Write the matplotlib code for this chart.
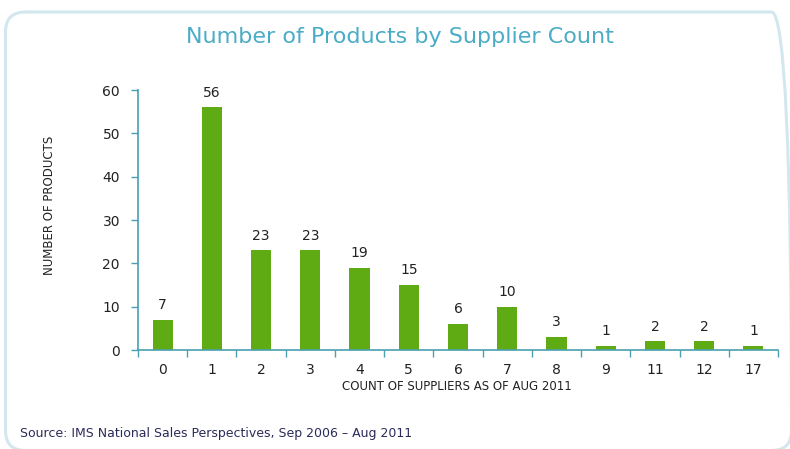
import matplotlib
matplotlib.use("Agg")
import matplotlib.pyplot as plt
from matplotlib.patches import FancyBboxPatch
import numpy as np

categories = ["0", "1", "2", "3", "4", "5", "6", "7", "8", "9", "11", "12", "17"]
values = [7, 56, 23, 23, 19, 15, 6, 10, 3, 1, 2, 2, 1]
yticks = [0, 10, 20, 30, 40, 50, 60]

plt.rcParams['font.family'] = ['DejaVu Sans']
fig = plt.figure(figsize=(7.9, 4.49), dpi=100)

# rounded border (pixel coordinates, origin bottom-left)
border = FancyBboxPatch((5.5, -1.5), 786, 438.5,
                        boxstyle="round,pad=0,rounding_size=20",
                        transform=None, fill=False,
                        edgecolor="#d3e7ee", linewidth=2.2)
fig.patches.append(border)

ax = fig.add_axes([138/790, 1-350/449, 640/790, 260/449])
x = np.arange(len(categories))
ax.bar(x, values, width=0.41, color="#5fab14", zorder=2)
for xi, v in zip(x, values):
    ax.text(xi, v + 1.8, str(v), ha="center", va="bottom", fontsize=10, color="#222222")

ax.set_xlim(-0.5, len(categories) - 0.5)
ax.set_ylim(0, 60)
ax.set_yticks(yticks)
ax.set_yticklabels([str(t) for t in yticks], fontsize=10, color="#222222")
ax.set_xticks(x)
ax.set_xticklabels(categories, fontsize=10, color="#222222")
ax.set_xticks(np.arange(-0.5, len(categories)), minor=True)
ax.tick_params(axis="x", which="major", length=0, pad=9)
ax.tick_params(axis="x", which="minor", length=5, color="#4a9fb2", width=1, direction="out")
ax.tick_params(axis="y", length=5, color="#4a9fb2", width=1, direction="out", pad=8)
for s in ["top", "right"]:
    ax.spines[s].set_visible(False)
for s in ["left", "bottom"]:
    ax.spines[s].set_color("#4a9fb2")
    ax.spines[s].set_linewidth(1.2)
ax.set_facecolor("none")

fig.text(400/790, 1-37/449, "Number of Products by Supplier Count", ha="center", va="center",
         fontsize=16, color="#4bacc6")
fig.text(50/790, 1-205/449, "NUMBER OF PRODUCTS", rotation=90, ha="center", va="center",
         fontsize=8.5, color="#222222")
fig.text(457/790, 1-386/449, "COUNT OF SUPPLIERS AS OF AUG 2011", ha="center", va="center",
         fontsize=8.5, color="#222222")
fig.text(20/790, 1-434/449, "Source: IMS National Sales Perspectives, Sep 2006 \u2013 Aug 2011",
         ha="left", va="center", fontsize=9, color="#2b2b5a")

fig.savefig("out.png", dpi=100)
